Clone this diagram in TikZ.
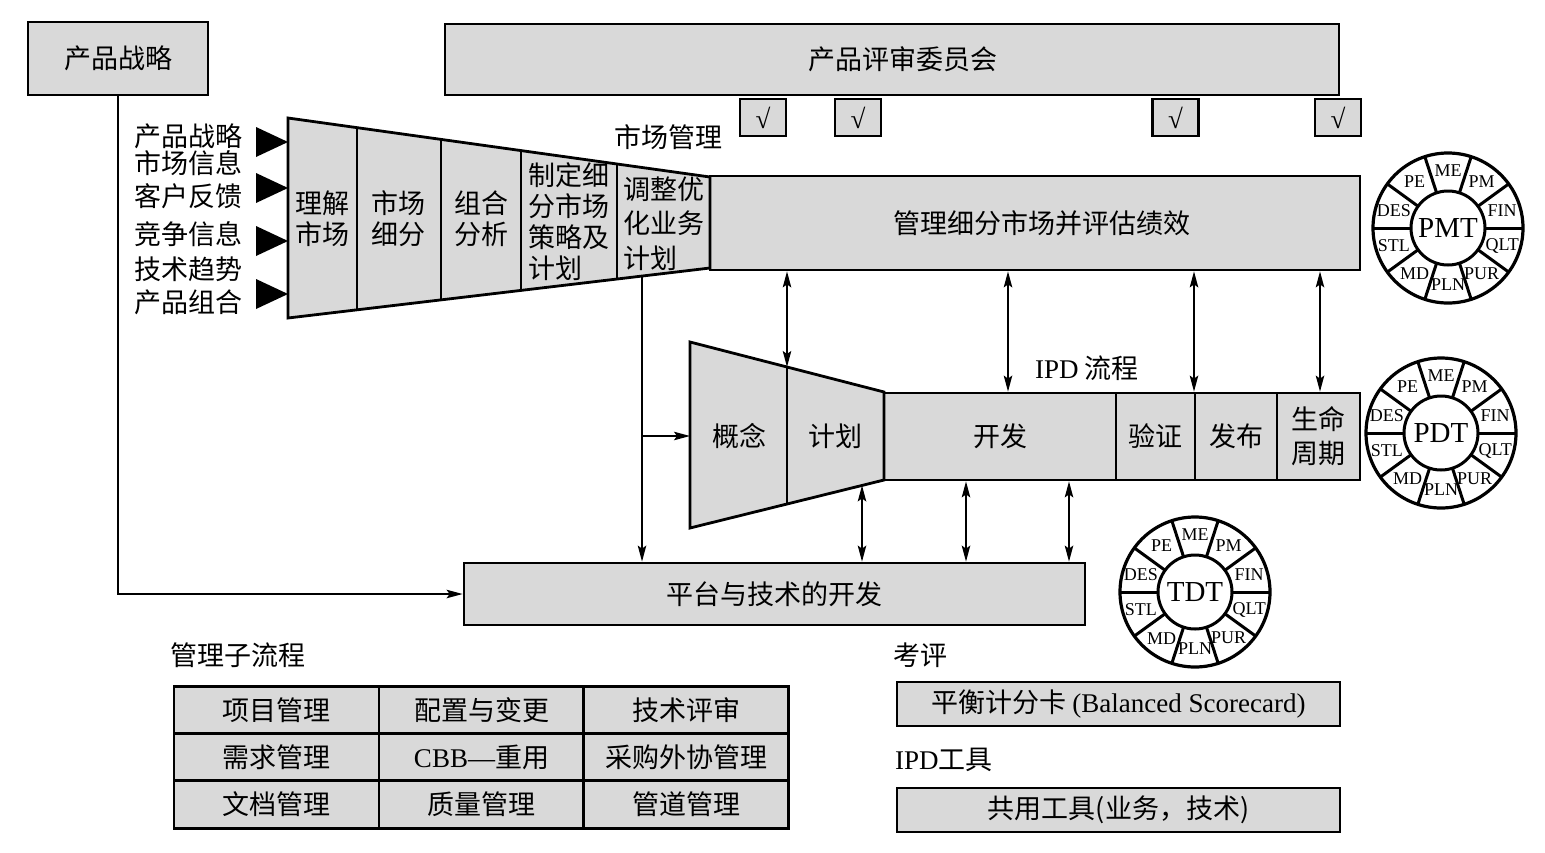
\documentclass[tikz,border=0pt]{standalone}
\usepackage{fontspec}
\setmainfont{Liberation Serif}
\newfontfamily\cjk{Noto Sans CJK SC}
\usetikzlibrary{arrows.meta,calc}
\definecolor{boxgray}{RGB}{217,217,217}
\newcommand\cjkfs{\cjk\fontsize{27}{31}\selectfont}
\newcommand\latfs{\rmfamily\fontsize{27}{31}\selectfont}
\tikzset{
  box/.style={draw, line width=2.8pt, fill=boxgray, inner sep=0pt, font=\cjkfs, align=center},
  lbl/.style={font=\cjkfs, inner sep=0pt, align=center},
  thickline/.style={line width=2.8pt},
  tip/.style={Stealth[length=16pt,width=8.5pt,inset=3pt]},
  arr/.style={line width=1.4pt, -{Stealth[length=16pt,width=8.5pt,inset=3pt]}},
  darr/.style={line width=1.4pt, {Stealth[length=16pt,width=8.5pt,inset=3pt]}-{Stealth[length=16pt,width=8.5pt,inset=3pt]}},
  tri/.style={fill=black},
  wheel/.pic={
    \fill[white] (0,0) circle (75pt);
    \foreach \a in {0,36,...,324} \draw[line width=3pt] (\a:37pt) -- (\a:75pt);
    \draw[line width=3.2pt] (0,0) circle (75pt);
    \draw[line width=3pt] (0,0) circle (37pt);
    \foreach \a/\lab in {18/FIN,54/PM,90/ME,126/PE,162/DES,198/STL,234/MD,270/PLN,306/PUR,342/QLT}
      \node[font=\rmfamily\fontsize{18}{18}\selectfont, inner sep=0pt] at (\a:57pt) {\lab};
    \node[font=\rmfamily\fontsize{29}{29}\selectfont, inner sep=0pt] (-c) at (0,0) {#1};
  }
}
\begin{document}
\begin{tikzpicture}[x=1pt,y=-1pt]
\useasboundingbox (0,0) rectangle (1545,852);

% top boxes
\node[box, minimum width=180, minimum height=73] (ps) at (118,58.5) {产品战略};
\node[box, minimum width=894, minimum height=71, text width=894, align=center] (rev) at (892,59.5) {\hspace*{22pt}产品评审委员会};
\foreach \cx/\nm in {763/c1,858/c2,1175.5/c3,1338/c4}
  \node[box, font=\latfs, minimum width=46, minimum height=37] (\nm) at (\cx,117.5) {√};
\node[lbl] (mm) at (668,137) {市场管理};

% left inputs
\foreach \yy/\tx/\nm in {136/产品战略/in1,163/市场信息/in2,196/客户反馈/in3,234/竞争信息/in4,269/技术趋势/in5,302/产品组合/in6}
  \node[lbl, anchor=west] (\nm) at (134,\yy) {\tx};
\foreach \yy in {142,188,241,294}
  \fill[tri] (256,\yy-15) -- (288,\yy) -- (256,\yy+15) -- cycle;

% market management funnel
\node[box, minimum width=650, minimum height=94] (mkt) at (1035,223) {\hspace*{14pt}管理细分市场并评估绩效};
\filldraw[fill=boxgray, thickline] (288,118) coordinate (ft1) -- (710,177) coordinate (ft2)
  -- (710,268) coordinate (fb2) -- (288,318) coordinate (fb1) -- cycle;
\foreach \t in {0.1635,0.3626,0.5521,0.7796}
  \draw[thickline] ($(ft1)!\t!(ft2)$) -- ($(fb1)!\t!(fb2)$);
\node[lbl] (s1) at (322,219) {理解\\市场};
\node[lbl] (s2) at (398,219) {市场\\细分};
\node[lbl] (s3) at (481,219) {组合\\分析};
\node[lbl, align=left] (s4) at (569,221.5) {制定细\\分市场\\策略及\\计划};
\node[lbl, align=left, font=\cjk\fontsize{27}{34.5}\selectfont] (s5) at (663.5,223.5) {调整优\\化业务\\计划};

% IPD funnel
\node[box, minimum width=232, minimum height=87] (dev) at (1000,436.5) {开发};
\node[box, minimum width=79, minimum height=87] (ver) at (1155.5,436.5) {验证};
\node[box, minimum width=82, minimum height=87] (rel) at (1236,436.5) {发布};
\node[box, minimum width=83, minimum height=87, font=\cjk\fontsize{27}{34}\selectfont] (life) at (1318.5,436.5) {生命\\周期};
\filldraw[fill=boxgray, thickline] (690,342) coordinate (it1) -- (884,392) coordinate (it2)
  -- (884,480) coordinate (ib2) -- (690,528) coordinate (ib1) -- cycle;
\draw[thickline] ($(it1)!0.5!(it2)$) coordinate (id1) -- ($(ib1)!0.5!(ib2)$);
\node[lbl] (con) at (739,436) {概念};
\node[lbl] (pln) at (835,436) {计划};
\node[lbl] (ipd) at (1087,368) {{\latfs IPD} 流程};

% platform
\node[box, minimum width=621, minimum height=62] (plat) at (774.5,594) {平台与技术的开发};

% connectors
\draw[arr] (ps.south) |- (plat.west);
\coordinate (fv) at ($(fb1)!0.8389!(fb2)$);
\draw[arr] (fv) -- (fv |- plat.north);
\coordinate (br) at (fv |- con);
\draw[arr] (br) -- (br -| ib1);
\draw[darr] (id1 |- mkt.south) -- (id1);
\coordinate (u2) at (1008,0);
\coordinate (u3) at (1194,0);
\coordinate (u4) at (1320,0);
\foreach \u in {u2,u3,u4}
  \draw[darr] (\u |- mkt.south) -- (\u |- dev.north);
\coordinate (ib3) at ($(ib1)!0.8866!(ib2)$);
\draw[darr] (ib3) -- (ib3 |- plat.north);
\coordinate (d2) at (966,0);
\coordinate (d3) at (1069,0);
\foreach \d in {d2,d3}
  \draw[darr] (\d |- dev.south) -- (\d |- plat.north);

% wheels
\pic (pmt) at (1448,228) {wheel=PMT};
\pic (pdt) at (1441,433) {wheel=PDT};
\pic (tdt) at (1195,592) {wheel=TDT};

% management sub-processes
\node[lbl, anchor=west] (subt) at (170,655) {管理子流程};
\foreach \cx/\cy/\tx/\nm in {276.5/710/项目管理/t11, 481.5/710/配置与变更/t12, 686/710/技术评审/t13,
  276.5/757.5/需求管理/t21, 481.5/757.5/{{\latfs CBB—}重用}/t22, 686/757.5/采购外协管理/t23,
  276.5/804.5/文档管理/t31, 481.5/804.5/质量管理/t32, 686/804.5/管道管理/t33}
  \node[box, minimum width=205, minimum height=47.3] (\nm) at (\cx,\cy) {\tx};

% evaluation and tools
\node[lbl, anchor=west] (kp) at (893,655) {考评};
\node[box, minimum width=443, minimum height=44] (bsc) at (1118.5,704) {平衡计分卡 {\latfs (Balanced Scorecard)}};
\node[lbl, anchor=west] (tl) at (895,760) {{\latfs IPD}工具};
\node[box, minimum width=443, minimum height=44] (tools) at (1118.5,810) {共用工具(业务，技术)};
\end{tikzpicture}
\end{document}
